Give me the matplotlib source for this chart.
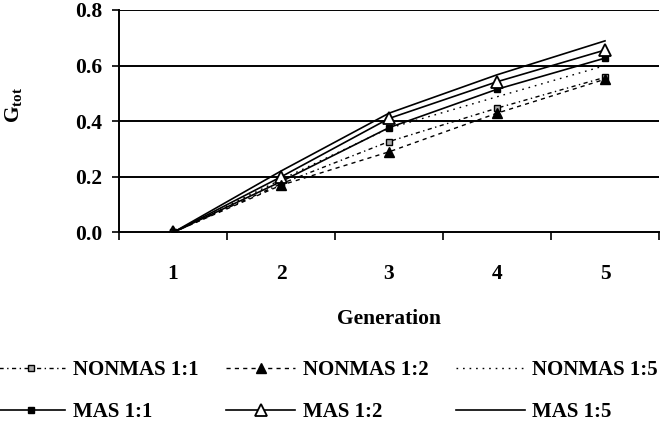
import matplotlib
matplotlib.use("Agg")
import matplotlib.pyplot as plt
from matplotlib.ticker import FixedLocator

generations = [1, 2, 3, 4, 5]
gen_labels = ["1", "2", "3", "4", "5"]
nonmas_11 = [0.0, 0.175, 0.327, 0.447, 0.558]
nonmas_12 = [0.0, 0.170, 0.290, 0.429, 0.551]
nonmas_15 = [0.0, 0.190, 0.375, 0.488, 0.600]
mas_11 = [0.0, 0.183, 0.377, 0.515, 0.627]
mas_12 = [0.0, 0.200, 0.410, 0.542, 0.656]
mas_15 = [0.0, 0.221, 0.429, 0.567, 0.689]
yticks = [0.0, 0.2, 0.4, 0.6, 0.8]

plt.rcParams['font.family'] = ['Liberation Serif', 'DejaVu Serif']
plt.rcParams['font.weight'] = 'bold'
plt.rcParams['mathtext.fontset'] = 'custom'
plt.rcParams['mathtext.bf'] = 'Liberation Serif:bold'
plt.rcParams['mathtext.rm'] = 'Liberation Serif:bold'

W, H = 666, 423
fig = plt.figure(figsize=(W / 100, H / 100), dpi=100)
ax = fig.add_axes([119 / W, 1 - 232.5 / H, 540 / W, 222.5 / H])

fs = 15.5
lw = 1.2

for yv in yticks[1:]:
    ax.axhline(yv, color='black', lw=1.4, zorder=1)

h1, = ax.plot(generations, nonmas_11, color='black', lw=1.0, ls=(0, (3, 2.5, 1, 2.5)),
              marker='s', ms=5, mfc='#aaaaaa', mec='black', mew=1.0, zorder=3)
h2, = ax.plot(generations, nonmas_12, color='black', lw=1.0, ls=(0, (3, 3)),
              marker='^', ms=7, mfc='black', mec='black', zorder=4)
h3, = ax.plot(generations, nonmas_15, color='black', lw=1.0, ls=(0, (1.2, 3.5)), zorder=3)
h4, = ax.plot(generations, mas_11, color='black', lw=lw, ls='-',
              marker='s', ms=4.5, mfc='black', mec='black', zorder=3)
h5, = ax.plot(generations, mas_12, color='black', lw=lw, ls='-',
              marker='^', ms=9, mfc='white', mec='black', mew=1.3, zorder=3)
h6, = ax.plot(generations, mas_15, color='black', lw=lw, ls='-', zorder=3)

ax.set_xlim(0.5, 5.5)
ax.set_ylim(0, 0.8)
ax.set_yticks(yticks)
ax.set_yticklabels([f"{v:.1f}" for v in yticks], fontsize=fs, fontweight='bold')
ax.xaxis.set_major_locator(FixedLocator([0.5, 1.5, 2.5, 3.5, 4.5, 5.5]))
ax.set_xticklabels([])
ax.xaxis.set_minor_locator(FixedLocator(generations))
ax.set_xticklabels(gen_labels, minor=True, fontsize=fs, fontweight='bold')
ax.tick_params(axis='x', which='major', direction='out', length=6, width=1.2)
ax.tick_params(axis='x', which='minor', length=0, pad=23)
ax.tick_params(axis='y', direction='out', length=5, width=1.2, pad=7)

for s in ['top', 'right']:
    ax.spines[s].set_visible(False)
for s in ['left', 'bottom']:
    ax.spines[s].set_linewidth(1.4)

ax.set_xlabel("Generation", fontsize=fs, fontweight='bold', labelpad=18)
fig.text(14 / W, 1 - 105 / H, r'$\mathbf{G}_{\mathbf{tot}}$', rotation=90,
         ha='center', va='center', fontsize=fs)

leg = fig.legend([h1, h4, h2, h5, h3, h6],
                 ["NONMAS 1:1", "MAS 1:1", "NONMAS 1:2", "MAS 1:2", "NONMAS 1:5", "MAS 1:5"],
                 ncol=3, loc='upper left', bbox_to_anchor=(-0.005, 1 - 360 / H),
                 frameon=False, fontsize=15, handlelength=3.3, handletextpad=0.35,
                 columnspacing=1.35, labelspacing=1.05, borderpad=0, borderaxespad=0)
for t in leg.get_texts():
    t.set_fontweight('bold')

fig.savefig("out.png", dpi=100)
